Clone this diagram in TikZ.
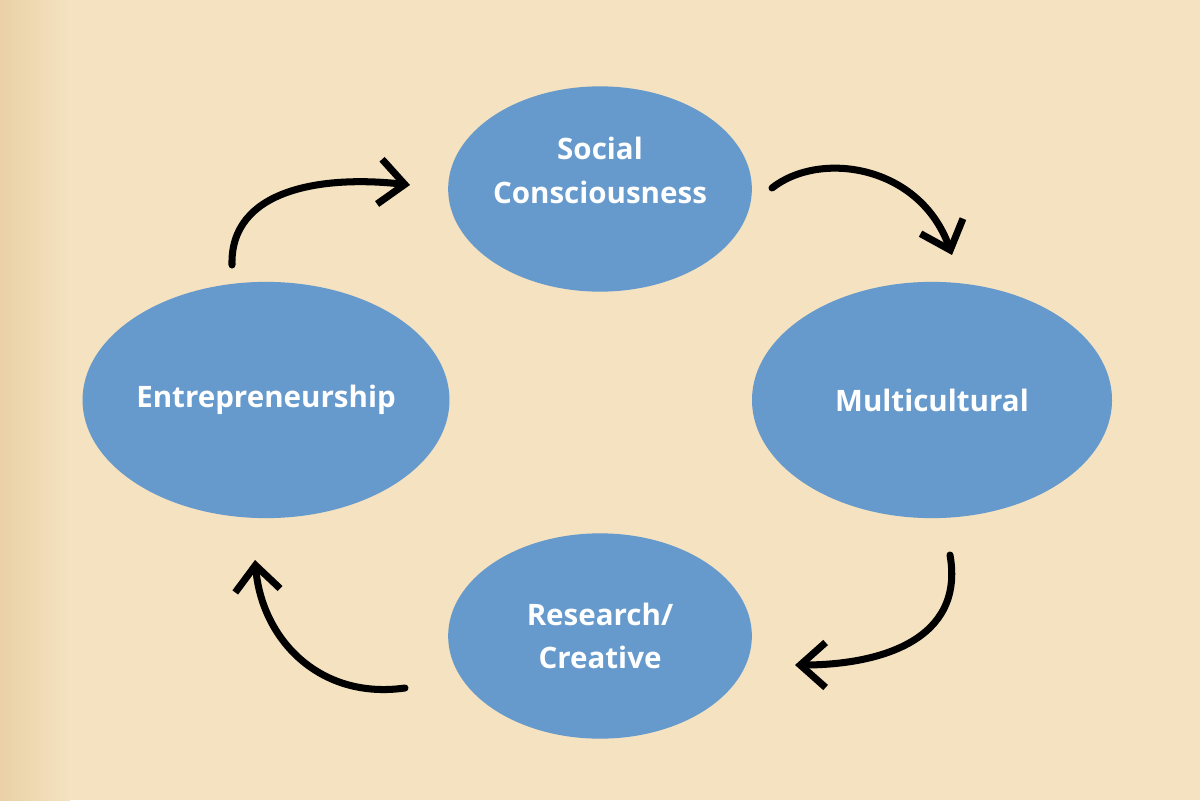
\documentclass[tikz,border=0pt]{standalone}
\usepackage{fontspec}
\setmainfont{Open Sans}
\usetikzlibrary{arrows.meta,shapes.geometric}
\definecolor{paper}{HTML}{F4E2C0}
\definecolor{edge}{HTML}{EAD1A6}
\definecolor{blob}{HTML}{6699CC}
\begin{document}
\begin{tikzpicture}[x=0.025cm,y=-0.025cm,
  blobtext/.style={text=white,font=\bfseries\fontsize{21}{31}\selectfont,align=center,inner sep=0pt},
  blob/.style={ellipse,fill=blob,draw=none,blobtext},
  cyc/.style={line width=5pt,line cap=round,-{Straight Barb[length=18pt,width=32pt,line width=5pt]}}]
\fill[paper] (0,0) rectangle (1200,800);
\shade[left color=edge,right color=paper] (0,0) rectangle (70,800);
\node[blob,minimum width=216pt,minimum height=146pt,label={[blobtext,yshift=13pt]center:Social\\Consciousness}] (s) at (600,189) {};
\node[blob,minimum width=256pt,minimum height=168pt] (m) at (932,400) {Multicultural};
\node[blob,minimum width=216pt,minimum height=146pt] (r) at (600,636) {Research/\\Creative};
\node[blob,minimum width=256pt,minimum height=168pt] (e) at (266,400) {Entrepreneurship};
\coordinate (a1) at (232,265); \coordinate (b1) at (410,185);
\coordinate (a2) at (772,188); \coordinate (b2) at (952,255);
\coordinate (a3) at (950,555); \coordinate (b3) at (795,665);
\coordinate (a4) at (405,688); \coordinate (b4) at (255,560);
\draw[cyc] (a1) .. controls (230,190) and (320,175) .. (b1);
\draw[cyc] (a2) .. controls (820,150) and (920,165) .. (b2);
\draw[cyc] (a3) .. controls (965,640) and (880,665) .. (b3);
\draw[cyc] (a4) .. controls (320,700) and (262,640) .. (b4);
\end{tikzpicture}
\end{document}
